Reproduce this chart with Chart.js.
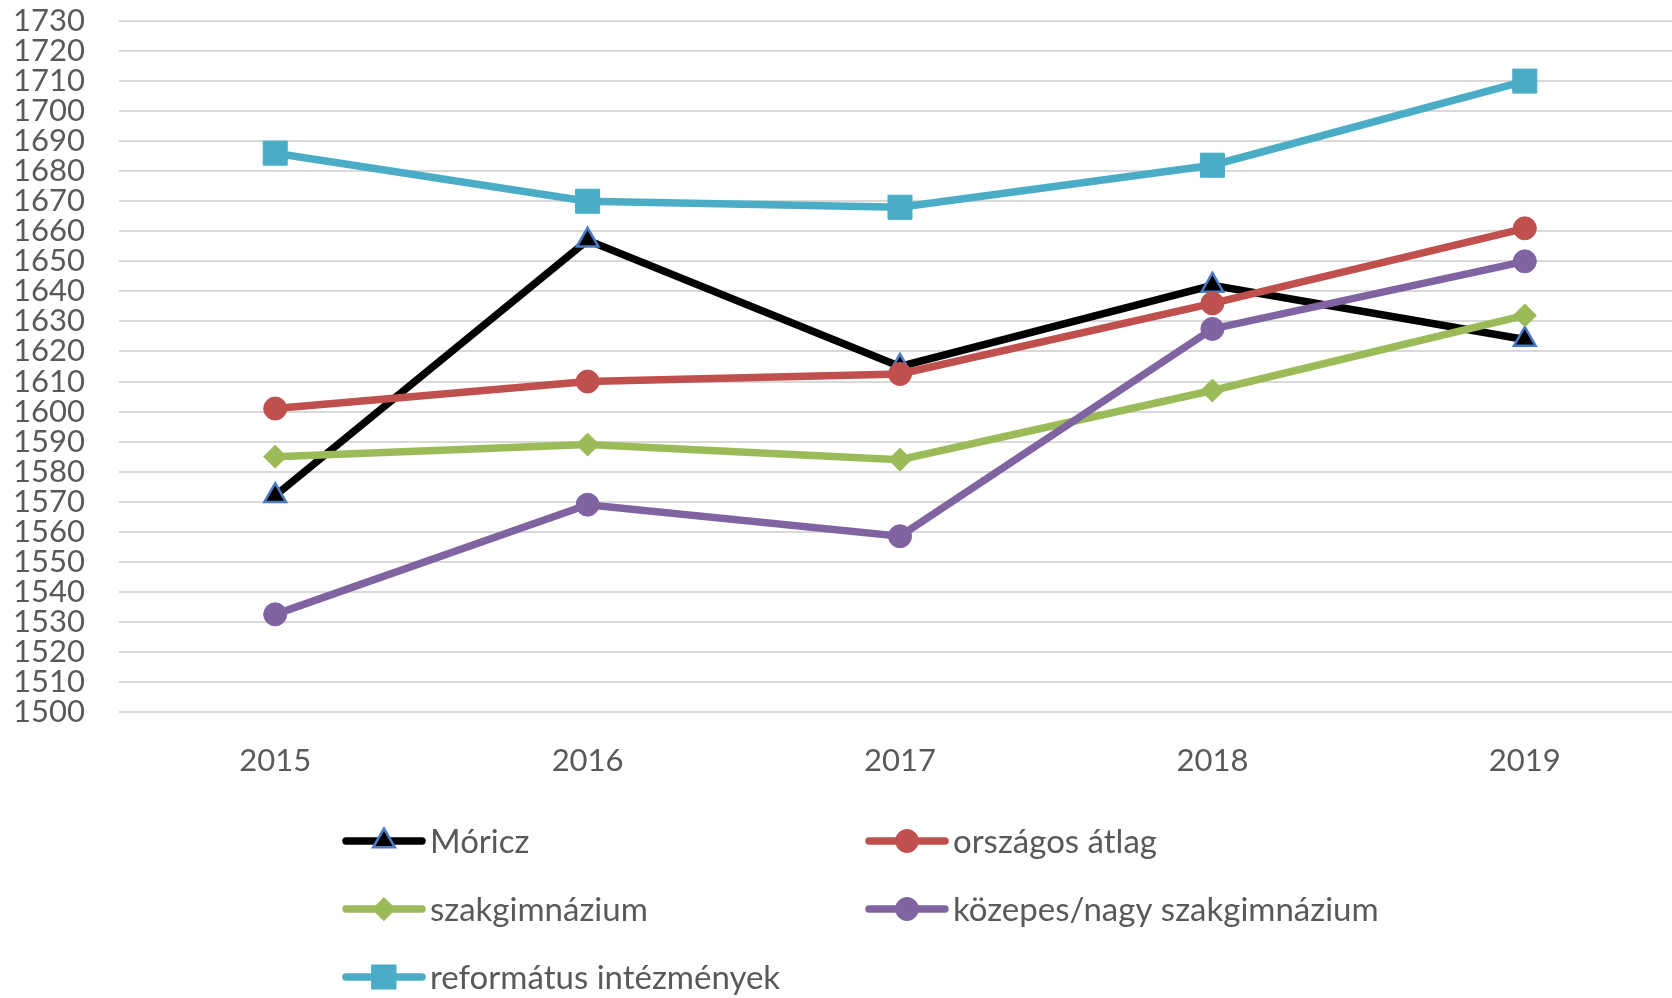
<!DOCTYPE html>
<html>
<head>
<meta charset="utf-8">
<script src="https://cdn.jsdelivr.net/npm/chart.js@4/dist/chart.umd.min.js"></script>
<style>
  html, body { margin: 0; padding: 0; background: #fff; overflow: hidden; }
  #wrap { width: 1699px; height: 998px; position: relative; }
  #chart { width: 1699px; height: 998px; display: block; }
</style>
</head>
<body>
<div id="wrap"><canvas id="chart" width="1699" height="998"></canvas></div>
<script>
const years = ['2015', '2016', '2017', '2018', '2019'];
const moricz = [1572, 1657, 1615, 1642, 1624];
const orszagos = [1601, 1610, 1612.5, 1636, 1661];
const szakgimnazium = [1585, 1589, 1584, 1607, 1632];
const kozepesNagy = [1532.5, 1569, 1558.5, 1627.5, 1650];
const reformatus = [1686, 1670, 1668, 1682, 1710];
const yMin = 1500, yMax = 1730, yStep = 10;

const FONT = 'Lato';
const TEXT = '#595959';

// legend drawn in two columns under the plot, like the Excel original
const gridLegend = {
  id: 'gridLegend',
  afterDraw(chart) {
    const ctx = chart.ctx;
    chart.data.datasets.forEach((ds, i) => {
      const x0 = i % 2 === 0 ? 342 : 865;
      const y = 841 + Math.floor(i / 2) * 68;
      ctx.save();
      ctx.strokeStyle = ds.borderColor;
      ctx.lineWidth = ds.borderWidth;
      ctx.lineCap = 'round';
      ctx.beginPath();
      ctx.moveTo(x0 + 4, y);
      ctx.lineTo(x0 + 80, y);
      ctx.stroke();
      ctx.fillStyle = ds.pointBackgroundColor;
      ctx.strokeStyle = ds.pointBorderColor;
      ctx.lineWidth = ds.pointBorderWidth;
      Chart.helpers.drawPoint(ctx, {
        pointStyle: ds.pointStyle, rotation: 0,
        radius: ds.pointRadius, borderWidth: ds.pointBorderWidth
      }, x0 + 42, y);
      ctx.fillStyle = TEXT;
      ctx.font = '33px ' + FONT;
      ctx.textBaseline = 'middle';
      ctx.textAlign = 'left';
      ctx.fillText(ds.label, x0 + 88, y + 1);
      ctx.restore();
    });
  }
};

function series(label, data, color, style, radius, order, extra) {
  return Object.assign({
    label, data, order,
    borderColor: color,
    borderWidth: 7.5,
    pointStyle: style,
    pointRadius: radius,
    pointHoverRadius: radius,
    pointBackgroundColor: color,
    pointBorderColor: color,
    pointBorderWidth: 1,
    tension: 0
  }, extra || {});
}

new Chart(document.getElementById('chart'), {
  type: 'line',
  data: {
    labels: years,
    datasets: [
      series('Móricz', moricz, '#000000', 'triangle', 12.5, 5,
        { pointBorderColor: '#4A7BC8', pointBorderWidth: 2.5 }),
      series('országos átlag', orszagos, '#C0504D', 'circle', 11.5, 4),
      series('szakgimnázium', szakgimnazium, '#9BBB59', 'rectRot', 11.5, 3),
      series('közepes/nagy szakgimnázium', kozepesNagy, '#8064A2', 'circle', 11.5, 2),
      series('református intézmények', reformatus, '#4BACC6', 'rect', 17, 1)
    ]
  },
  options: {
    responsive: false,
    animation: false,
    devicePixelRatio: 1,
    layout: { padding: { top: 21, right: 9, bottom: 216, left: 0 } },
    plugins: {
      legend: { display: false },
      tooltip: { enabled: false }
    },
    scales: {
      x: {
        offset: true,
        grid: { display: false, drawTicks: false },
        border: { display: false },
        ticks: { color: TEXT, font: { family: FONT, size: 31 }, padding: 30 },
        afterFit(scale) {
          scale.height = 70;
          scale.paddingLeft = 0;
          scale.paddingRight = 0;
        }
      },
      y: {
        min: yMin, max: yMax,
        grid: { color: '#D9D9D9', lineWidth: 2, drawTicks: false },
        border: { display: false },
        ticks: {
          stepSize: yStep, autoSkip: false, color: TEXT,
          font: { family: FONT, size: 31 }, padding: 34,
          callback: v => String(v)
        },
        afterFit(scale) {
          scale.width = 119;
          scale.paddingTop = 0;
          scale.paddingBottom = 0;
        }
      }
    }
  },
  plugins: [gridLegend]
});
</script>
</body>
</html>
